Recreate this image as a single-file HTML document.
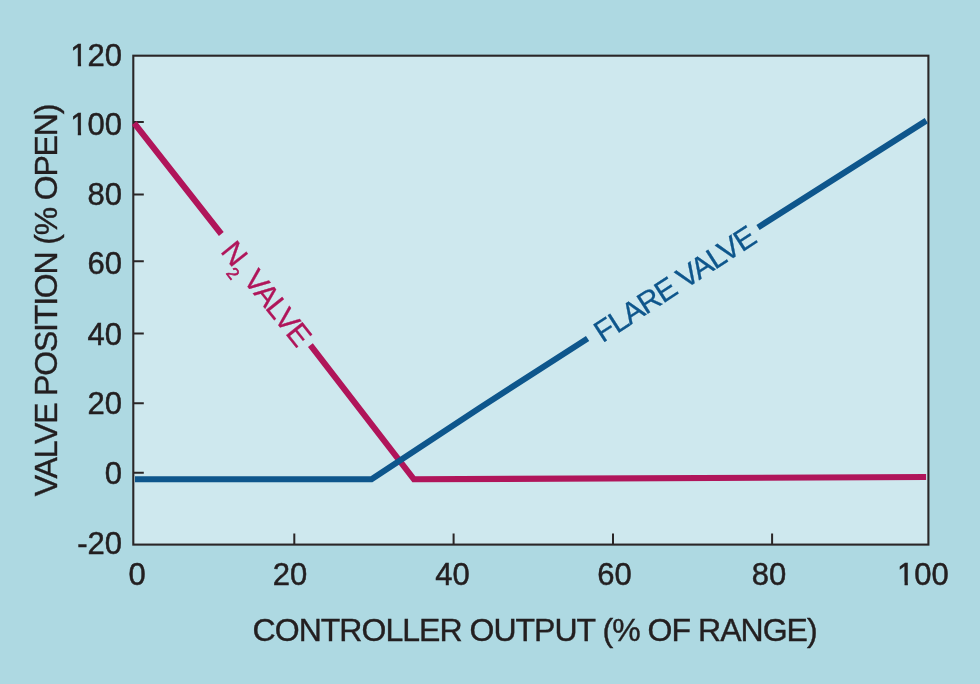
<!DOCTYPE html>
<html><head><meta charset="utf-8"><title>Split range valve chart</title>
<style>
html,body{margin:0;padding:0;background:#aed9e2;}
body{width:980px;height:684px;overflow:hidden;}
svg{display:block;font-family:"Liberation Sans",Arial,Helvetica,sans-serif;}
</style></head><body>
<svg width="980" height="684" viewBox="0 0 980 684">
<rect x="0" y="0" width="980" height="684" fill="#aed9e2"/>
<defs><clipPath id="cE"><path clip-rule="evenodd" d="M-80-40H40V14H-80Z M-50.96-2.9H-44.18V3H-50.96Z M-40.94-2.9H-34.70V3H-40.94Z"/></clipPath><clipPath id="cM"><path clip-rule="evenodd" d="M-80-40H40V14H-80Z M-25.10-2.9H-18.32V3H-25.10Z M-15.08-2.9H-8.83V3H-15.08Z"/></clipPath></defs>
<rect x="133.3" y="55.7" width="795.1" height="488.9" fill="#cee8ee" stroke="#2a2627" stroke-width="2.1"/>
<g stroke="#2a2627" stroke-width="2" fill="none">
<path d="M133.3 122.1H143.8M133.3 194.6H143.8M133.3 261.3H143.8M133.3 333.6H143.8M133.3 403.2H143.8M133.3 472.7H143.8"/>
<path d="M294.3 544.6V533.6M453.6 544.6V533.6M613 544.6V533.6M772.1 544.6V533.6"/>
</g>
<g fill="none" stroke-width="6.1" stroke-linejoin="miter">
<path d="M134.2 123.2L221.3 234M310.4 345.2L413.9 479.3L926.1 477" stroke="#b0155a"/>
<path d="M135 479.3H371.5L480 407.7L587.6 338.5M758 227.5L926.3 120.7" stroke="#0e568c"/>
</g>
<g fill="#231f20" stroke="#231f20" stroke-width="0.5" font-size="31" text-anchor="end">
<text transform="translate(122 65.7)" clip-path="url(#cE)">120</text>
<text transform="translate(122 134.7)" clip-path="url(#cE)">100</text>
<text x="122" y="205.1">80</text>
<text x="122" y="274.3">60</text>
<text x="122" y="344.8">40</text>
<text x="122" y="414.2">20</text>
<text x="122" y="483.7">0</text>
<text x="122" y="553.6">-20</text>
</g>
<g fill="#231f20" stroke="#231f20" stroke-width="0.5" font-size="31" text-anchor="middle">
<text x="137" y="584.6">0</text>
<text x="290" y="584.6">20</text>
<text x="452.5" y="584.6">40</text>
<text x="614.6" y="584.6">60</text>
<text x="769" y="584.6">80</text>
<text transform="translate(922.9 584.6)" clip-path="url(#cM)">100</text>
</g>
<text x="252.6" y="640.8" font-size="32" fill="#231f20" stroke="#231f20" stroke-width="0.4" textLength="565" lengthAdjust="spacing">CONTROLLER OUTPUT (% OF RANGE)</text>
<text transform="translate(57.3 496.2) rotate(-90)" font-size="32" fill="#231f20" stroke="#231f20" stroke-width="0.4" textLength="392.5" lengthAdjust="spacing">VALVE POSITION (% OPEN)</text>
<text transform="translate(219.7 251.6) rotate(51.5)" font-size="30" fill="#b0155a" stroke="#b0155a" stroke-width="0.3" textLength="124.5" lengthAdjust="spacing">N<tspan font-size="17" dy="9" stroke-width="0.6">2</tspan><tspan dy="-9"> VALVE</tspan></text>
<text transform="translate(602.5 343.3) rotate(-33.1)" font-size="30" fill="#0e568c" stroke="#0e568c" stroke-width="0.3" textLength="186.5" lengthAdjust="spacing">FLARE VALVE</text>
</svg>
</body></html>
